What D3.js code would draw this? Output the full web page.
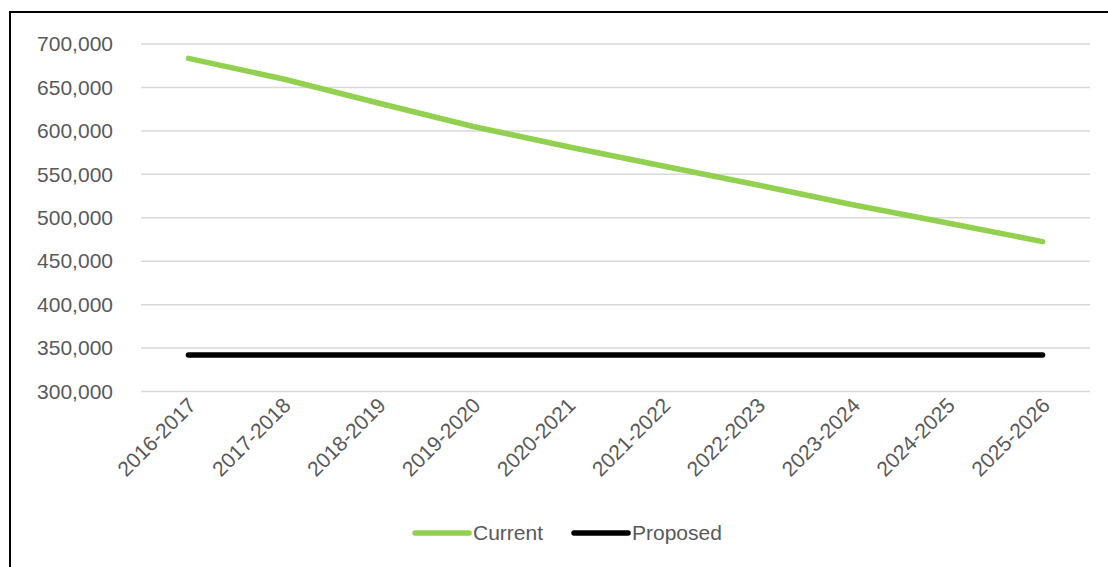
<!DOCTYPE html>
<html>
<head>
<meta charset="utf-8">
<script src="https://cdn.jsdelivr.net/npm/d3@7"></script>
<style>
  body { margin: 0; background: #fff; }
  svg text { font-family: "Liberation Sans", Arial, sans-serif; fill: #595959; }
</style>
</head>
<body>
<div class="canvas"></div>
<script>
// data
const years = ['2016-2017', '2017-2018', '2018-2019', '2019-2020', '2020-2021',
    '2021-2022', '2022-2023', '2023-2024', '2024-2025', '2025-2026'];
const current = [683500, 659700, 632100, 605000, 581800, 559600, 537700, 515000, 494000, 472500];
const proposed = [342000, 342000, 342000, 342000, 342000, 342000, 342000, 342000, 342000, 342000];
const yTicks = [300000, 350000, 400000, 450000, 500000, 550000, 600000, 650000, 700000];

const svg = d3.select('.canvas')
    .append('svg')
        .attr('width', 1108)
        .attr('height', 567);

// frame (runs off the right and bottom edge like the screenshot)
svg.append('rect')
    .attr('x', 10).attr('y', 12)
    .attr('width', 1200).attr('height', 700)
    .attr('fill', 'none')
    .attr('stroke', '#000')
    .attr('stroke-width', 2);

const margin = { top: 44, left: 141 };
const graphWidth = 949;
const graphHeight = 347.5;

const graph = svg.append('g')
    .attr('transform', `translate(${margin.left}, ${margin.top})`);

// scales
const x = d3.scalePoint()
    .domain(years)
    .range([0, graphWidth])
    .padding(0.5);

const y = d3.scaleLinear()
    .domain([300000, 700000])
    .range([graphHeight, 0]);

// gridlines
graph.append('g')
    .selectAll('line')
    .data(yTicks)
    .enter().append('line')
        .attr('x1', 0).attr('x2', graphWidth)
        .attr('y1', d => y(d)).attr('y2', d => y(d))
        .attr('stroke', '#d9d9d9')
        .attr('stroke-width', 1.5);

// axes
const yAxis = d3.axisLeft(y)
    .tickValues(yTicks)
    .tickFormat(d3.format(','))
    .tickSize(0)
    .tickPadding(28);

const yAxisGroup = graph.append('g').call(yAxis);
yAxisGroup.select('.domain').remove();
yAxisGroup.selectAll('text')
    .style('font-size', '21px')
    .style('font-family', '"Liberation Sans", Arial, sans-serif')
    .attr('fill', '#595959');

const xAxis = d3.axisBottom(x).tickSize(0).tickPadding(0);
const xAxisGroup = graph.append('g')
    .attr('transform', `translate(0, ${graphHeight})`)
    .call(xAxis);
xAxisGroup.select('.domain').remove();
xAxisGroup.selectAll('text')
    .style('font-size', '21px')
    .style('font-family', '"Liberation Sans", Arial, sans-serif')
    .attr('fill', '#595959')
    .attr('text-anchor', 'end')
    .attr('dy', '0.35em')
    .attr('transform', 'translate(3, 10) rotate(-45)');

// lines
const line = d3.line()
    .x((d, i) => x(years[i]))
    .y(d => y(d));

graph.append('path')
    .datum(proposed)
    .attr('d', line)
    .attr('fill', 'none')
    .attr('stroke', '#000')
    .attr('stroke-width', 5.5)
    .attr('stroke-linecap', 'round');

graph.append('path')
    .datum(current)
    .attr('d', line)
    .attr('fill', 'none')
    .attr('stroke', '#92d050')
    .attr('stroke-width', 5.5)
    .attr('stroke-linecap', 'round')
    .attr('stroke-linejoin', 'round');

// legend
const legendItems = [
    { name: 'Current', color: '#92d050', x: 415 },
    { name: 'Proposed', color: '#000', x: 574 }
];
const legend = svg.append('g')
    .selectAll('g')
    .data(legendItems)
    .enter().append('g')
        .attr('transform', d => `translate(${d.x}, 533)`);

legend.append('line')
    .attr('x1', 0).attr('x2', 54)
    .attr('y1', 0).attr('y2', 0)
    .attr('stroke', d => d.color)
    .attr('stroke-width', 5.5)
    .attr('stroke-linecap', 'round');

legend.append('text')
    .attr('x', 58)
    .attr('dy', '0.35em')
    .style('font-size', '21px')
    .text(d => d.name);
</script>
</body>
</html>
